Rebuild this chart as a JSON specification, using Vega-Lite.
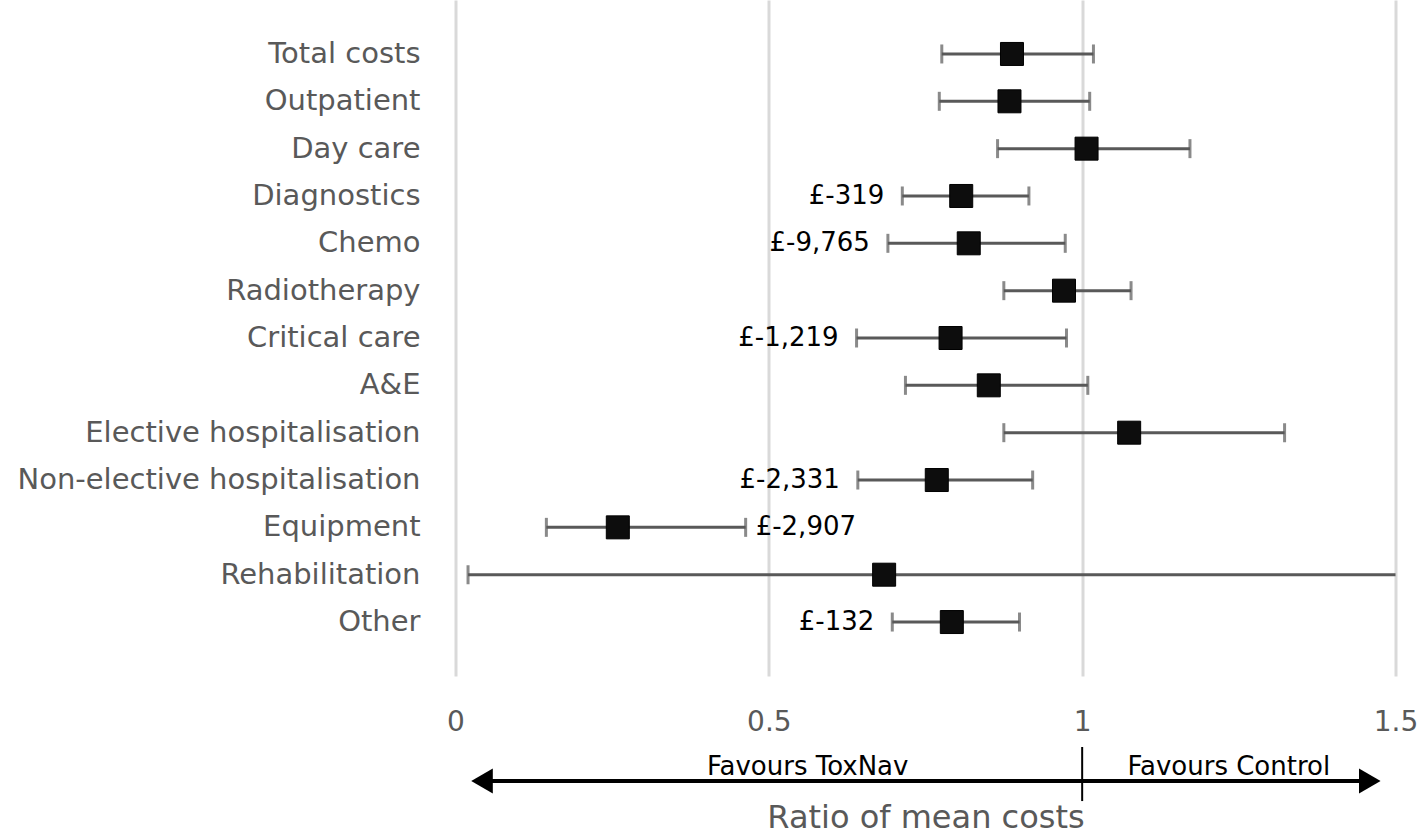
{
  "$schema": "https://vega.github.io/schema/vega-lite/v6.json",
  "autosize": "none",
  "width": 940,
  "height": 676,
  "padding": {"left": 455.5, "top": 0, "right": 28.5, "bottom": 160},
  "background": "white",
  "config": {"font": "DejaVu Sans", "view": {"stroke": null}},
  "datasets": {
    "costs": [
      {"category": "Total costs", "ratio": 0.888, "lower": 0.776, "upper": 1.018, "label": "", "side": "none"},
      {"category": "Outpatient", "ratio": 0.884, "lower": 0.772, "upper": 1.012, "label": "", "side": "none"},
      {"category": "Day care", "ratio": 1.007, "lower": 0.865, "upper": 1.172, "label": "", "side": "none"},
      {"category": "Diagnostics", "ratio": 0.807, "lower": 0.713, "upper": 0.915, "label": "£-319", "side": "left"},
      {"category": "Chemo", "ratio": 0.819, "lower": 0.690, "upper": 0.973, "label": "£-9,765", "side": "left"},
      {"category": "Radiotherapy", "ratio": 0.971, "lower": 0.875, "upper": 1.078, "label": "", "side": "none"},
      {"category": "Critical care", "ratio": 0.790, "lower": 0.640, "upper": 0.975, "label": "£-1,219", "side": "left"},
      {"category": "A&E", "ratio": 0.851, "lower": 0.718, "upper": 1.009, "label": "", "side": "none"},
      {"category": "Elective hospitalisation", "ratio": 1.075, "lower": 0.875, "upper": 1.323, "label": "", "side": "none"},
      {"category": "Non-elective hospitalisation", "ratio": 0.768, "lower": 0.642, "upper": 0.921, "label": "£-2,331", "side": "left"},
      {"category": "Equipment", "ratio": 0.259, "lower": 0.145, "upper": 0.463, "label": "£-2,907", "side": "right"},
      {"category": "Rehabilitation", "ratio": 0.684, "lower": 0.020, "upper": 1.6, "label": "", "side": "none"},
      {"category": "Other", "ratio": 0.792, "lower": 0.697, "upper": 0.900, "label": "£-132", "side": "left"}
    ],
    "annotation": [{"note": "arrow"}]
  },
  "layer": [
    {
      "data": {"name": "costs"},
      "encoding": {
        "y": {
          "field": "category", "type": "nominal", "sort": null,
          "scale": {"type": "band", "paddingInner": 0, "paddingOuter": 0.64},
          "axis": {
            "title": null, "ticks": false, "tickSize": 0, "domain": false, "grid": false,
            "labelFont": "DejaVu Sans", "labelFontSize": 29, "labelColor": "#595959",
            "labelPadding": 35.5, "labelLimit": 600
          }
        }
      },
      "layer": [
        {
          "mark": {"type": "rule", "color": "#595959", "strokeWidth": 3, "clip": true},
          "encoding": {
            "x": {
              "field": "lower", "type": "quantitative",
              "scale": {"domain": [0, 1.5], "nice": false, "zero": false},
              "axis": {
                "values": [0, 0.5, 1, 1.5], "format": "~g",
                "grid": true, "gridColor": "#d9d9d9", "gridWidth": 3,
                "domain": false, "ticks": false, "tickSize": 0,
                "labelFont": "DejaVu Sans", "labelFontSize": 28, "labelColor": "#595959",
                "labelPadding": 32, "labelFlush": false,
                "title": "Ratio of mean costs", "titleFont": "DejaVu Sans", "titleFontSize": 32,
                "titleFontWeight": "normal", "titleColor": "#595959", "titlePadding": 66
              }
            },
            "x2": {"field": "upper"}
          }
        },
        {
          "mark": {"type": "tick", "color": "#595959", "thickness": 3, "size": 19, "clip": true, "orient": "vertical"},
          "encoding": {"x": {"field": "lower", "type": "quantitative"}}
        },
        {
          "mark": {"type": "tick", "color": "#595959", "thickness": 3, "size": 19, "clip": true, "orient": "vertical"},
          "encoding": {"x": {"field": "upper", "type": "quantitative"}}
        },
        {
          "mark": {"type": "point", "shape": "square", "size": 529, "filled": true, "fill": "#0d0d0d", "stroke": "#000000", "strokeWidth": 1, "opacity": 1},
          "encoding": {"x": {"field": "ratio", "type": "quantitative"}}
        },
        {
          "transform": [{"filter": "datum.side === 'left'"}],
          "mark": {"type": "text", "align": "right", "baseline": "middle", "dx": -18, "fontSize": 26, "color": "#000000", "font": "DejaVu Sans"},
          "encoding": {"x": {"field": "lower", "type": "quantitative"}, "text": {"field": "label"}}
        },
        {
          "transform": [{"filter": "datum.side === 'right'"}],
          "mark": {"type": "text", "align": "left", "baseline": "middle", "dx": 10, "fontSize": 26, "color": "#000000", "font": "DejaVu Sans"},
          "encoding": {"x": {"field": "upper", "type": "quantitative"}, "text": {"field": "label"}}
        }
      ]
    },
    {
      "data": {"name": "annotation"},
      "layer": [
        {
          "mark": {"type": "rule", "color": "#000000", "strokeWidth": 4, "clip": false},
          "encoding": {
            "x": {"datum": 0.05, "type": "quantitative"},
            "x2": {"datum": 1.45},
            "y": {"datum": -0.1553, "type": "quantitative", "scale": {"domain": [0, 1], "nice": false, "zero": false}, "axis": null}
          }
        },
        {
          "mark": {"type": "rule", "color": "#000000", "strokeWidth": 2, "clip": false},
          "encoding": {
            "x": {"datum": 1, "type": "quantitative"},
            "y": {"datum": -0.105, "type": "quantitative"},
            "y2": {"datum": -0.185}
          }
        },
        {
          "mark": {"type": "point", "shape": "triangle-left", "size": 620, "filled": true, "color": "#000000", "opacity": 1, "clip": false},
          "encoding": {
            "x": {"datum": 0.0423, "type": "quantitative"},
            "y": {"datum": -0.1553, "type": "quantitative"}
          }
        },
        {
          "mark": {"type": "point", "shape": "triangle-right", "size": 620, "filled": true, "color": "#000000", "opacity": 1, "clip": false},
          "encoding": {
            "x": {"datum": 1.459, "type": "quantitative"},
            "y": {"datum": -0.1553, "type": "quantitative"}
          }
        },
        {
          "mark": {"type": "text", "text": "Favours ToxNav", "align": "center", "baseline": "alphabetic", "fontSize": 26, "color": "#000000", "font": "DejaVu Sans", "clip": false},
          "encoding": {
            "x": {"datum": 0.562, "type": "quantitative"},
            "y": {"datum": -0.1464, "type": "quantitative"}
          }
        },
        {
          "mark": {"type": "text", "text": "Favours Control", "align": "center", "baseline": "alphabetic", "fontSize": 26, "color": "#000000", "font": "DejaVu Sans", "clip": false},
          "encoding": {
            "x": {"datum": 1.234, "type": "quantitative"},
            "y": {"datum": -0.1464, "type": "quantitative"}
          }
        }
      ]
    }
  ],
  "resolve": {"scale": {"y": "independent"}, "axis": {"y": "independent"}}
}
